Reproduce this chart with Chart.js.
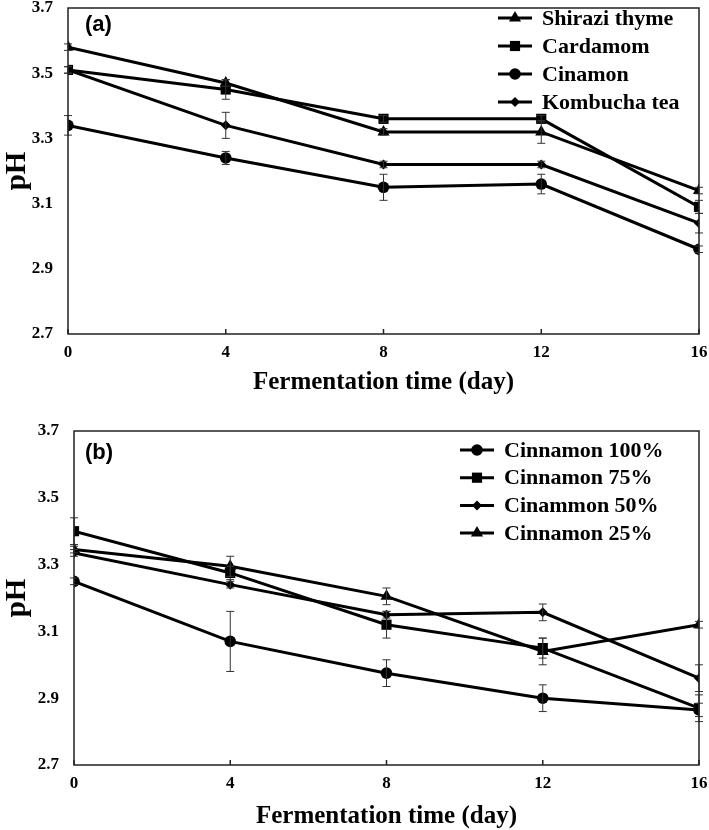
<!DOCTYPE html>
<html>
<head>
<meta charset="utf-8">
<script src="https://cdn.jsdelivr.net/npm/chart.js@4.4.1/dist/chart.umd.min.js"></script>
<style>
  html, body { margin: 0; padding: 0; background: #fff; }
  .box { position: relative; width: 709px; }
  #boxA { height: 400px; }
  #boxB { height: 430px; }
</style>
</head>
<body>
<div class="box" id="boxA"><canvas id="chartA"></canvas></div>
<div class="box" id="boxB"><canvas id="chartB"></canvas></div>
<script>
// fermentation days
const days = [0, 4, 8, 12, 16];
const yTicks = [2.7, 2.9, 3.1, 3.3, 3.5, 3.7];

// panel (a)
const labelsA = ['Shirazi thyme', 'Cardamom', 'Cinamon', 'Kombucha tea'];
const shiraziThyme = [3.58, 3.47, 3.32, 3.32, 3.14];
const cardamom = [3.51, 3.45, 3.36, 3.36, 3.09];
const cinamon = [3.34, 3.24, 3.15, 3.16, 2.96];
const kombuchaTea = [3.51, 3.34, 3.22, 3.22, 3.04];
const shiraziErr = [0.01, 0.01, 0.01, 0.035, 0.01];
const cardamomErr = [0.01, 0.03, 0.01, 0.01, 0.02];
const cinamonErr = [0.03, 0.02, 0.04, 0.03, 0.01];
const kombuchaErr = [0.01, 0.04, 0.01, 0.01, 0.03];

// panel (b)
const labelsB = ['Cinnamon 100%', 'Cinnamon 75%', 'Cinammon 50%', 'Cinnamon 25%'];
const cin100 = [3.25, 3.07, 2.975, 2.90, 2.865];
const cin75 = [3.40, 3.275, 3.12, 3.05, 2.87];
const cin50 = [3.335, 3.24, 3.15, 3.157, 2.96];
const cin25 = [3.345, 3.295, 3.205, 3.04, 3.12];
const cin100Err = [0.01, 0.09, 0.04, 0.04, 0.02];
const cin75Err = [0.04, 0.02, 0.04, 0.03, 0.04];
const cin50Err = [0.01, 0.01, 0.01, 0.025, 0.04];
const cin25Err = [0.01, 0.03, 0.025, 0.04, 0.01];

const SERIF = '"Liberation Serif", "Times New Roman", serif';

function marker(style) {
  // radius per marker shape, roughly matching the picture
  const r = { circle: 5.8, rect: 7.2, triangle: 7, rectRot: 5 }[style];
  return { pointStyle: style, pointRadius: r, pointHoverRadius: r };
}

function makeSet(label, values, errs, style) {
  return {
    label: label,
    data: days.map((d, i) => ({ x: d, y: values[i] })),
    errors: errs,
    borderColor: '#000',
    backgroundColor: '#000',
    pointBackgroundColor: '#000',
    pointBorderColor: '#000',
    pointBorderWidth: 0,
    borderWidth: 3,
    tension: 0,
    ...marker(style)
  };
}

// error bars, plot frame and inward x ticks
const extras = {
  id: 'extras',
  afterDatasetsDraw(chart) {
    const ctx = chart.ctx;
    const xs = chart.scales.x, ys = chart.scales.y;
    ctx.save();
    ctx.strokeStyle = '#333';
    ctx.lineWidth = 1;
    chart.data.datasets.forEach(ds => {
      ds.data.forEach((p, i) => {
        const e = ds.errors[i];
        const px = xs.getPixelForValue(p.x);
        const y1 = ys.getPixelForValue(p.y + e);
        const y2 = ys.getPixelForValue(p.y - e);
        ctx.beginPath();
        ctx.moveTo(px, y1); ctx.lineTo(px, y2);
        ctx.moveTo(px - 4, y1); ctx.lineTo(px + 4, y1);
        ctx.moveTo(px - 4, y2); ctx.lineTo(px + 4, y2);
        ctx.stroke();
      });
    });
    const a = chart.chartArea;
    ctx.strokeStyle = '#222';
    ctx.lineWidth = 1.5;
    ctx.strokeRect(a.left, a.top, a.right - a.left, a.bottom - a.top);
    days.forEach(d => {
      const px = xs.getPixelForValue(d);
      ctx.beginPath();
      ctx.moveTo(px, a.bottom); ctx.lineTo(px, a.bottom - 5);
      ctx.stroke();
    });
    ctx.restore();
  }
};

// legend with line + marker and the panel tag
const legendBox = {
  id: 'legendBox',
  afterDraw(chart, args, opts) {
    const ctx = chart.ctx;
    ctx.save();
    chart.data.datasets.forEach((ds, i) => {
      const y = opts.y + i * opts.dy;
      ctx.strokeStyle = '#000';
      ctx.lineWidth = 3;
      ctx.beginPath();
      ctx.moveTo(opts.x, y); ctx.lineTo(opts.x + opts.len, y);
      ctx.stroke();
      ctx.fillStyle = '#000';
      Chart.helpers.drawPoint(ctx, {
        pointStyle: ds.pointStyle, radius: ds.pointRadius, borderWidth: 0, rotation: 0
      }, opts.x + opts.len / 2, y);
      ctx.font = 'bold 22px ' + SERIF;
      ctx.textBaseline = 'middle';
      ctx.textAlign = 'left';
      ctx.fillText(ds.label, opts.textX, y + 1);
    });
    ctx.font = 'bold 22px "Liberation Sans", Arial, sans-serif';
    ctx.textBaseline = 'middle';
    ctx.fillText(opts.tag, opts.tagX, opts.tagY);
    ctx.restore();
  }
};

function makeChart(id, datasets, yWidth, xHeight, legendOpts, padTop, titlePad) {
  const ctx = document.getElementById(id).getContext('2d');
  return new Chart(ctx, {
    type: 'line',
    data: { datasets: datasets },
    plugins: [extras, legendBox],
    options: {
      responsive: true,
      maintainAspectRatio: false,
      animation: false,
      layout: { padding: { top: padTop, right: 10, left: 0, bottom: 0 } },
      plugins: {
        legend: { display: false },
        tooltip: { enabled: false },
        legendBox: legendOpts
      },
      scales: {
        x: {
          type: 'linear',
          min: 0, max: 16,
          afterBuildTicks: s => { s.ticks = days.map(v => ({ value: v })); },
          afterFit: s => { s.height = xHeight; s.paddingLeft = 0; s.paddingRight = 0; },
          grid: { display: false, drawTicks: false },
          border: { display: false },
          ticks: { color: '#000', font: { family: SERIF, weight: 'bold', size: 17 }, padding: 8 },
          title: {
            display: true, text: 'Fermentation time (day)', color: '#000',
            font: { family: SERIF, weight: 'bold', size: 25 }, padding: { top: 0, bottom: titlePad }
          }
        },
        y: {
          min: 2.7, max: 3.7,
          afterBuildTicks: s => { s.ticks = yTicks.map(v => ({ value: v })); },
          afterFit: s => { s.width = yWidth; s.paddingTop = 0; s.paddingBottom = 0; },
          grid: { display: false, drawTicks: false },
          border: { display: false },
          ticks: {
            color: '#000', font: { family: SERIF, weight: 'bold', size: 17 }, padding: 15,
            callback: v => v.toFixed(1)
          },
          title: {
            display: true, text: 'pH', color: '#000',
            font: { family: SERIF, weight: 'bold', size: 29 }, padding: 0
          }
        }
      }
    }
  });
}

makeChart('chartA', [
  makeSet(labelsA[0], shiraziThyme, shiraziErr, 'triangle'),
  makeSet(labelsA[1], cardamom, cardamomErr, 'rect'),
  makeSet(labelsA[2], cinamon, cinamonErr, 'circle'),
  makeSet(labelsA[3], kombuchaTea, kombuchaErr, 'rectRot')
], 68, 66, { x: 498, len: 34, textX: 542, y: 18, dy: 28, tag: '(a)', tagX: 85, tagY: 25 }, 8, 2);

makeChart('chartB', [
  makeSet(labelsB[0], cin100, cin100Err, 'circle'),
  makeSet(labelsB[1], cin75, cin75Err, 'rect'),
  makeSet(labelsB[2], cin50, cin50Err, 'rectRot'),
  makeSet(labelsB[3], cin25, cin25Err, 'triangle')
], 74, 65, { x: 460, len: 34, textX: 504, y: 50, dy: 27.7, tag: '(b)', tagX: 85, tagY: 53 }, 31, -2);
</script>
</body>
</html>
